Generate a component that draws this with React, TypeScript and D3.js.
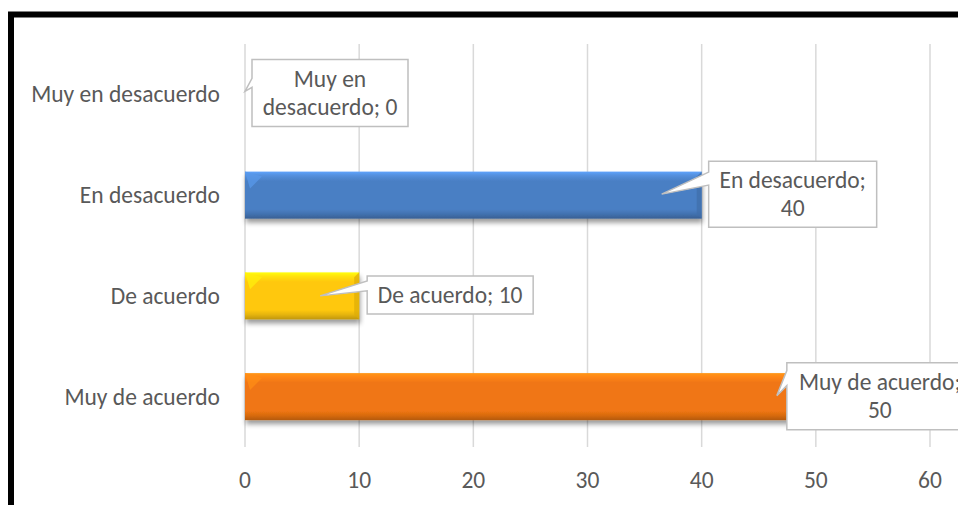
import React from "react";
import * as d3 from "d3";

const categories = ["Muy en desacuerdo", "En desacuerdo", "De acuerdo", "Muy de acuerdo"];
const values = [0, 40, 10, 50];
const barColors = ["#4a7fc4", "#4a7fc4", "#ffc80a", "#f07612"];
const xTicks = [0, 10, 20, 30, 40, 50, 60];
const labelLines = [["Muy en", "desacuerdo; 0"], ["En desacuerdo;", "40"], ["De acuerdo; 10"], ["Muy de acuerdo;", "50"]];

// callout layout (offsets relative to the bar end / band centre)
const callouts = [
  { dx: 7, dy: -35, w: 156, h: 67, tip: 0, tipDy: -3, baseA: 19, baseB: 28 },
  { dx: 7, dy: -34, w: 168, h: 66, tip: -40, tipDy: -1, baseA: 11, baseB: 24 },
  { dx: 8, dy: -20, w: 166, h: 38, tip: -39, tipDy: 0, baseA: 5, baseB: 15 },
  { dx: -29, dy: -34, w: 186, h: 67, tip: -39, tipDy: -1, baseA: 8, baseB: 23 },
];

const W = 958, H = 505;
const FONT = "Carlito, Lato, 'Open Sans', sans-serif";
const TEXT = "#595959";
const FS = 23.5;

export default function App() {
  const x = d3.scaleLinear().domain([0, 60]).range([245, 930]);
  const y = d3.scaleBand<string>().domain(categories).range([44, 447]).paddingInner(0.533).paddingOuter(0.2665);
  const bw = y.bandwidth();

  const shade = (c: string, k: number) => (k > 0 ? d3.color(c)!.brighter(k).formatHex() : d3.color(c)!.darker(-k).formatHex());

  return (
    <svg width={W} height={H} style={{ position: "absolute", left: 0, top: 0, background: "#fff" }} fontFamily={FONT}>
      <defs>
        <filter id="sh" x="-5%" y="-30%" width="110%" height="180%">
          <feGaussianBlur in="SourceAlpha" stdDeviation="2.5" />
          <feOffset dx="1" dy="4" result="b" />
          <feComponentTransfer><feFuncA type="linear" slope="0.4" /></feComponentTransfer>
          <feMerge><feMergeNode /><feMergeNode in="SourceGraphic" /></feMerge>
        </filter>
        {categories.map((c, i) => (
          <linearGradient key={c} id={`g${i}`} x1="0" y1="0" x2="0" y2="1">
            <stop offset="0" stopColor={shade(barColors[i], 0.7)} />
            <stop offset="0.08" stopColor={shade(barColors[i], 0.35)} />
            <stop offset="0.2" stopColor={barColors[i]} />
            <stop offset="0.8" stopColor={barColors[i]} />
            <stop offset="0.9" stopColor={shade(barColors[i], -0.3)} />
            <stop offset="1" stopColor={shade(barColors[i], -0.8)} />
          </linearGradient>
        ))}
      </defs>
      <rect x={0} y={0} width={W} height={H} fill="#fff" />
      {/* frame */}
      <rect x={11} y={14.5} width={1100} height={700} fill="none" stroke="#000" strokeWidth={6} />
      {/* gridlines */}
      {xTicks.map((t) => (
        <line key={t} x1={x(t)} x2={x(t)} y1={44} y2={447} stroke="#d9d9d9" strokeWidth={1.5} />
      ))}
      {/* bars */}
      {categories.map((c, i) => {
        const x0 = x(0), x1 = x(values[i]), y0 = y(c)!, y1 = y0 + bw;
        if (x1 - x0 < 1) return null;
        const b = 5;
        return (
          <g key={c}>
            <rect x={x0} y={y0} width={x1 - x0} height={bw} fill={`url(#g${i})`} filter="url(#sh)" />
            <polygon points={`${x0},${y0} ${x0 + b + 12},${y0 + b} ${x0 + b},${y0 + b + 12}`} fill={shade(barColors[i], 0.5)} opacity={0.75} />
            <polygon points={`${x1},${y0} ${x1},${y1} ${x1 - b},${y1 - b} ${x1 - b},${y0 + b}`} fill={shade(barColors[i], -0.4)} opacity={0.7} />
          </g>
        );
      })}
      {/* category labels */}
      {categories.map((c) => (
        <text key={c} x={220} y={y(c)! + bw / 2} textAnchor="end" dominantBaseline="central" fontSize={FS} fill={TEXT}>{c}</text>
      ))}
      {/* tick labels */}
      {xTicks.map((t) => (
        <text key={t} x={x(t)} y={480} textAnchor="middle" dominantBaseline="central" fontSize={FS} fill={TEXT}>{t}</text>
      ))}
      {/* callouts */}
      {categories.map((c, i) => {
        const co = callouts[i];
        const ex = x(values[i]), cy = y(c)! + bw / 2;
        const bx = ex + co.dx, by = cy + co.dy;
        const tx = ex + co.tip, ty = cy + co.tipDy;
        const path = `M${bx},${by} H${bx + co.w} V${by + co.h} H${bx} V${by + co.baseB} L${tx},${ty} L${bx},${by + co.baseA} Z`;
        const lines = labelLines[i];
        const lh = 28;
        const cx = bx + co.w / 2, mid = by + co.h / 2;
        return (
          <g key={c}>
            <path d={path} fill="#fff" stroke="#bfbfbf" strokeWidth={1.5} />
            {lines.map((l, k) => (
              <text key={k} x={cx} y={mid + (k - (lines.length - 1) / 2) * lh} textAnchor="middle" dominantBaseline="central" fontSize={FS} fill={TEXT}>{l}</text>
            ))}
          </g>
        );
      })}
    </svg>
  );
}
